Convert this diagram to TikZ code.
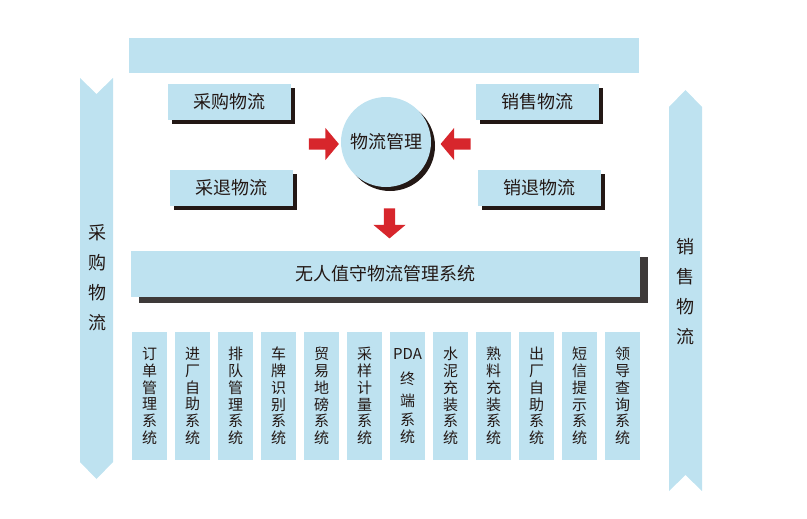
\documentclass[tikz,border=0pt]{standalone}
\usepackage{fontspec}
\setmainfont{Noto Sans CJK SC}
\usetikzlibrary{shapes.arrows, shadows, positioning}
\definecolor{paleblue}{RGB}{190,226,240}
\definecolor{inkdark}{RGB}{35,24,21}
\definecolor{barshadow}{RGB}{62,58,57}
\definecolor{flowred}{RGB}{215,38,44}
\tikzset{
    banner/.style={fill=paleblue, draw=none},
    bannertext/.style={align=center, text=inkdark, font=\fontsize{18}{30}\selectfont},
    flowbox/.style={rectangle, fill=paleblue, minimum width=123pt, minimum height=36pt, inner sep=0pt, text=inkdark, font=\fontsize{18}{18}\selectfont, general shadow={fill=inkdark, shadow xshift=4pt, shadow yshift=-4pt}},
    hub/.style={circle, fill=paleblue, minimum size=90pt, inner sep=0pt, text=inkdark, font=\fontsize{18}{18}\selectfont, general shadow={fill=inkdark, shadow xshift=4pt, shadow yshift=-4pt}},
    mainbar/.style={rectangle, fill=paleblue, minimum width=509pt, minimum height=46pt, inner sep=0pt, text=inkdark, font=\fontsize{18}{18}\selectfont, general shadow={fill=barshadow, shadow xshift=8pt, shadow yshift=-6pt}},
    subsys/.style={rectangle, fill=paleblue, minimum width=35pt, minimum height=128pt, inner sep=0pt, align=center, text=inkdark, font=\fontsize{15}{16.8}\selectfont},
    redarrow/.style={single arrow, fill=flowred, draw=none, minimum height=30pt, minimum width=32pt, inner sep=5.5pt, outer sep=0pt, single arrow head extend=10.5pt, single arrow tip angle=100},
}

\begin{document}
\begin{tikzpicture}[x=1pt, y=-1pt]
    \useasboundingbox (0,0) rectangle (807,519);

    % Top bar
    \fill[paleblue] (129,38) rectangle (639,73);

    % Side banners
    \fill[banner] (80,78) -- (96.5,94) -- (113,78) -- (113,462) -- (96.5,479) -- (80,462) -- cycle;
    \node[bannertext] (buyflow) at (97,277.5) {采\\购\\物\\流};
    \fill[banner] (669,107) -- (685.5,90) -- (702,107) -- (702,491) -- (685.5,475) -- (669,491) -- cycle;
    \node[bannertext] (sellflow) at (685.5,292) {销\\售\\物\\流};

    % Flow boxes
    \node[flowbox] (purchase) at (229.5,102) {采购物流};
    \node[flowbox] (purreturn) at (231.5,188) {采退物流};
    \node[flowbox] (sales) at (537.5,102) {销售物流};
    \node[flowbox] (salreturn) at (539.5,188) {销退物流};

    % Logistics management
    \node[hub] (manage) at (386,142) {物流管理};
    \node[redarrow] (arrleft) at (321.5,144) {};
    \node[redarrow, rotate=180] (arrright) at (458,144) {};
    \node[redarrow, rotate=-90] (arrdown) at (389.5,221) {};

    % Unattended system
    \node[mainbar] (system) at (385.5,274) {无人值守物流管理系统};

    % Subsystems
    \foreach \txt [count=\i from 0] in {
        {订\\单\\管\\理\\系\\统}, {进\\厂\\自\\助\\系\\统}, {排\\队\\管\\理\\系\\统},
        {车\\牌\\识\\别\\系\\统}, {贸\\易\\地\\磅\\系\\统}, {采\\样\\计\\量\\系\\统},
        {PDA\\[8pt]终\\[6pt]端\\[2pt]系\\统}, {水\\泥\\充\\装\\系\\统}, {熟\\料\\充\\装\\系\\统},
        {出\\厂\\自\\助\\系\\统}, {短\\信\\提\\示\\系\\统}, {领\\导\\查\\询\\系\\统}}
        \node[subsys] (sub\i) at (149.5+43*\i,396) {\txt};
\end{tikzpicture}
\end{document}
